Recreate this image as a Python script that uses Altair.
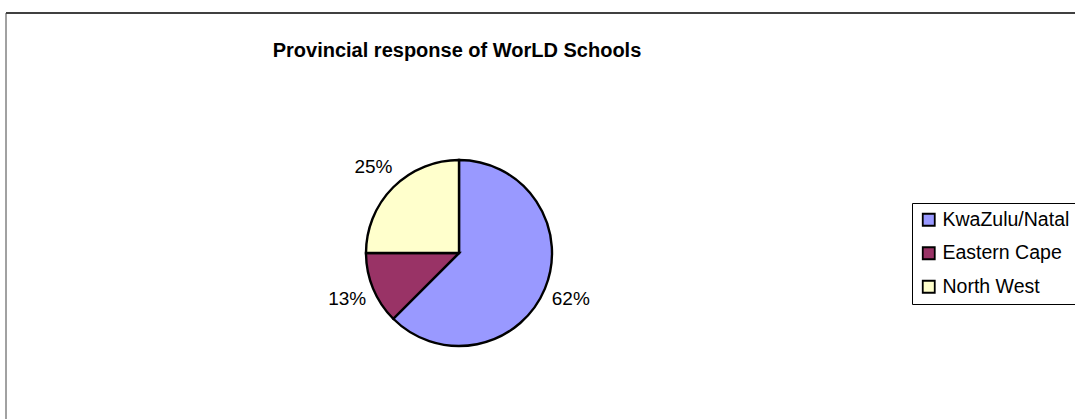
import altair as alt
import pandas as pd

# ---- data ----
regions = ["KwaZulu/Natal", "Eastern Cape", "North West"]
shares = [62.5, 12.5, 25.0]
labels = ["62%", "13%", "25%"]
colors = ["#9999FF", "#993366", "#FFFFCC"]
title_text = "Provincial response of WorLD Schools"

df = pd.DataFrame({"region": regions, "share": shares, "label": labels, "idx": list(range(len(regions)))})

W, H = 1075, 419
CX, CY, R = 459, 253, 93
FONT = "Liberation Sans"

color = alt.Color(
    "region:N",
    scale=alt.Scale(domain=regions, range=colors),
    sort=regions,
    legend=alt.Legend(
        title=None,
        orient="none",
        legendX=912,
        legendY=203,
        symbolType="square",
        symbolSize=144,
        symbolStrokeColor="black",
        symbolStrokeWidth=1.8,
        labelFont=FONT,
        labelFontSize=19.5,
        labelColor="black",
        labelLimit=400,
        labelOffset=4,
        rowPadding=12.5,
        padding=7,
        strokeColor="black",
        fillColor="white",
    ),
)

base = alt.Chart(df).encode(
    theta=alt.Theta("share:Q", stack=True),
    order=alt.Order("idx:Q"),
    x=alt.value(CX),
    y=alt.value(CY),
)

pie = base.mark_arc(outerRadius=R, stroke="black", strokeWidth=2.4).encode(color=color)
pct = base.mark_text(radius=121, fontSize=19, font=FONT, color="black").encode(text="label:N")

one = pd.DataFrame({"t": [title_text]})
title = alt.Chart(one).mark_text(
    fontSize=20, fontWeight="bold", font=FONT, color="black", align="center", baseline="middle"
).encode(x=alt.value(457), y=alt.value(51), text="t:N")

frame_top = alt.Chart(one).mark_rule(color="black", strokeWidth=1.5).encode(
    x=alt.value(6), x2=alt.value(W), y=alt.value(13)
)
frame_left = alt.Chart(one).mark_rule(color="#444444", strokeWidth=1).encode(
    x=alt.value(6), y=alt.value(13), y2=alt.value(H)
)

chart = (
    alt.layer(frame_top, frame_left, title, pie, pct)
    .properties(width=W, height=H, padding=0, autosize="none", background="white")
    .configure_view(stroke=None)
)

chart.save("out.html", embed_options={"renderer": "svg", "actions": False})
